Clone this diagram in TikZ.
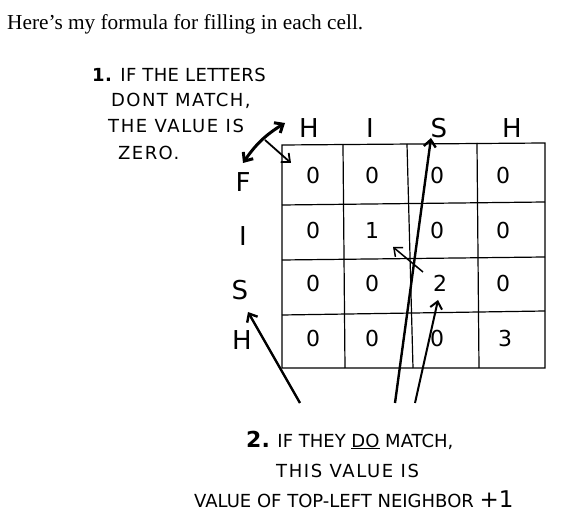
\documentclass[tikz,border=0pt]{standalone}
\usepackage{fontspec}
\setmainfont{Liberation Serif}
\newfontfamily\handfont{DejaVu Sans}
\usetikzlibrary{arrows.meta}

\tikzset{
  note/.style={anchor=west,inner sep=0pt,font=\handfont\fontsize{18}{20}\selectfont},
  letter/.style={inner sep=1pt,font=\handfont\fontsize{26}{28}\selectfont},
  cellval/.style={inner sep=1pt,font=\handfont\fontsize{22}{24}\selectfont},
  pointer/.style={-{Straight Barb[length=7pt,width=12pt]},line width=2.4pt},
}

\begin{document}
\begin{tikzpicture}[x=1pt,y=-1pt]
   \useasboundingbox (0,0) rectangle (566,529);
   \node[anchor=west,inner sep=0pt,font=\fontsize{21.3}{24}\selectfont] (title) at (7,24) {Here’s my formula for filling in each cell.};
   % the notes
   \node[note] (n1a) at (92,75) {\addfontfeature{LetterSpace=2}\textbf{1.} IF THE LETTERS};
   \node[note] (n1b) at (111,101) {\addfontfeature{LetterSpace=8}DONT MATCH,};
   \node[note] (n1c) at (108,126) {\addfontfeature{LetterSpace=9}THE VALUE IS};
   \node[note] (n1d) at (118,153) {\addfontfeature{LetterSpace=8}ZERO.};
   \node[note] (n2a) at (246,440) {{\fontsize{22}{22}\selectfont\textbf{2.}} IF THEY \underline{DO} MATCH,};
   \node[note] (n2b) at (276,471) {\addfontfeature{LetterSpace=9}THIS VALUE IS};
   \node[note] (n2c) at (194,499) {VALUE OF TOP-LEFT NEIGHBOR {\fontsize{23}{23}\selectfont +1}};
   % the grid
   \begin{scope}[line width=1.2pt]
    \draw (282,145) -- (545,143) -- (545,368) -- (282,368) -- cycle;
    \draw (343,145) -- (345,368);
    \draw (407,144) -- (413,368);
    \draw (477,143) -- (479,368);
    \draw (282,205) -- (545,202);
    \draw (282,260) -- (545,257);
    \draw (282,315) -- (545,311);
   \end{scope}
   \begin{scope}[every node/.style={letter}]
    \node (top1) at (309,128) {H};
    \node (top2) at (370,128) {I};
    \node (top3) at (439,128) {S};
    \node (top4) at (512,128) {H};
    \node (side1) at (243,182) {F};
    \node (side2) at (243,236) {I};
    \node (side3) at (240,290) {S};
    \node (side4) at (242,340) {H};
   \end{scope}
   \begin{scope}[every node/.style={cellval}]
    \node (c11) at (313,175) {0};
    \node (c12) at (372,175) {0};
    \node (c13) at (437,175) {0};
    \node (c14) at (503,175) {0};
    \node (c21) at (313,230) {0};
    \node (c22) at (372,230) {1};
    \node (c23) at (437,230) {0};
    \node (c24) at (503,230) {0};
    \node (c31) at (313,283) {0};
    \node (c32) at (372,283) {0};
    \node (c33) at (440,283) {2};
    \node (c34) at (503,283) {0};
    \node (c41) at (313,338) {0};
    \node (c42) at (372,338) {0};
    \node (c43) at (437,338) {0};
    \node (c44) at (505,338) {3};
   \end{scope}
   % arrow ends
   \coordinate (zeroA) at (243,163);
   \coordinate (zeroB) at (285,123);
   \coordinate (zeroC) at (265,140);
   \coordinate (zeroD) at (291,163);
   \coordinate (tailS) at (300,403);
   \coordinate (headS) at (248,312);
   \coordinate (tailTop) at (395,403);
   \coordinate (headTop) at (431,138);
   \coordinate (tailTwo) at (415,403);
   \coordinate (headTwo) at (438,300);
   \coordinate (tailDiag) at (423,272);
   \coordinate (headDiag) at (393,247);
   \begin{scope}[every edge/.style={draw=black,pointer}]
    \draw (zeroA) edge[{Straight Barb[length=7pt,width=12pt]}-{Straight Barb[length=7pt,width=12pt]},line width=3pt,bend left=12] (zeroB);
    \draw (zeroC) edge[line width=1.8pt] (zeroD);
    \draw (tailS) edge (headS);
    \draw (tailTop) edge (headTop);
    \draw (tailTwo) edge[line width=2pt] (headTwo);
    \draw (tailDiag) edge[line width=1.5pt] (headDiag);
   \end{scope}
\end{tikzpicture}
\end{document}
